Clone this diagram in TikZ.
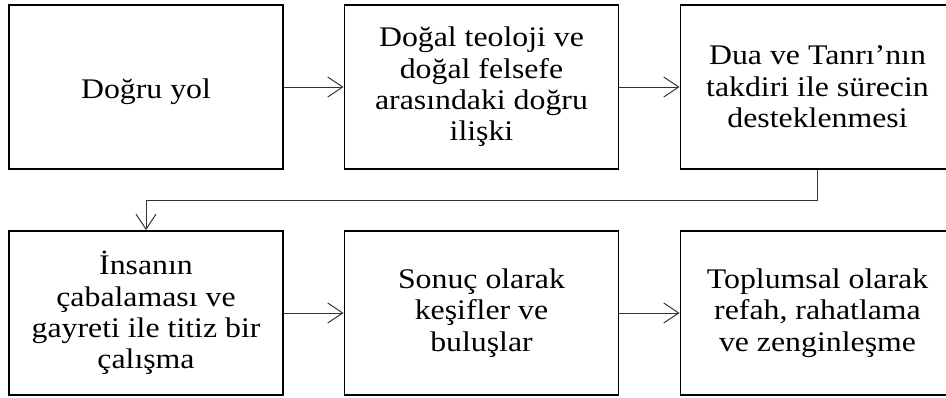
\documentclass[tikz,border=0pt]{standalone}
\usepackage{fontspec}
\setmainfont[FakeStretch=1.12]{Liberation Serif}
\usetikzlibrary{arrows.meta}
\begin{document}
\begin{tikzpicture}[x=1pt,y=-1pt,
 box/.style={draw, line width=1.8pt, minimum width=274pt, minimum height=164pt, align=center,
   font=\fontsize{28.4}{31.4}\selectfont, inner sep=0pt},
 conn/.style={draw=black!80, line width=1pt, -{Straight Barb[length=15pt,width=20pt,line width=1pt]}}]
\useasboundingbox (0,0) rectangle (946,397);
\node[box, text height=22pt, text depth=0pt] (b1) at (146,87) {Doğru yol};
\node[box] (b2) at (481.5,87) {Doğal teoloji ve\\doğal felsefe\\arasındaki doğru\\ilişki};
\node[box] (b3) at (817.5,87) {Dua ve Tanrı’nın\\takdiri ile sürecin\\desteklenmesi};
\node[box] (b4) at (146,313) {İnsanın\\çabalaması ve\\gayreti ile titiz bir\\çalışma};
\node[box] (b5) at (481.5,313) {Sonuç olarak\\keşifler ve\\buluşlar};
\node[box] (b6) at (817.5,313) {Toplumsal olarak\\refah, rahatlama\\ve zenginleşme};
\draw[conn] (b1) -- (b2);
\draw[conn] (b2) -- (b3);
\draw[conn] (b3.south) -- ++(0,31) -| (b4.north);
\draw[conn] (b4) -- (b5);
\draw[conn] (b5) -- (b6);
\end{tikzpicture}
\end{document}
